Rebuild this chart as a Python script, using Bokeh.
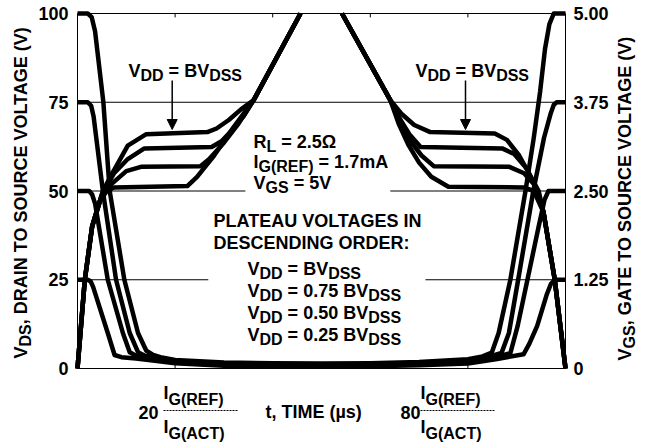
import math
from bokeh.plotting import figure
from bokeh.models import Range1d, Label, Arrow, NormalHead
from bokeh.core.properties import value
from bokeh.embed import file_html
from bokeh.resources import INLINE

# ---------------- data (time in chart units 0..100, VDS in volts, VGS in volts) -------------
vds_ticks = [0, 25, 50, 75, 100]
vds_tick_labels = ["0", "25", "50", "75", "100"]
vgs_ticks = [0, 1.25, 2.5, 3.75, 5.0]
vgs_tick_labels = ["0", "1.25", "2.50", "3.75", "5.00"]
time_ticks = [20, 40, 60, 80]

vds100_t = [0, 2.1, 2.9, 3.6, 5.3, 6.6, 9.6, 12.4, 14.1, 15.5, 17, 20, 30, 40, 50, 60, 70, 80, 83, 84.9,
            86.3, 88.7, 91.8, 93.5, 94.8, 95.8, 96.7, 97.6, 100]
vds100_v = [100, 100, 99, 95, 75, 50, 25, 10, 5, 3.8, 3.2, 2.4, 1.7, 1.5, 1.4, 1.5, 1.8, 2.6, 3.4, 4.5,
            10, 25, 50, 65, 78, 90, 97, 100, 100]
vds75_t = [0, 2.1, 2.8, 3.3, 5.2, 7.9, 10.7, 12.4, 13.8, 17, 20, 30, 40, 50, 60, 70, 80, 84, 86.9, 88.4,
           90.3, 93.4, 95.6, 97.0, 97.6, 98.2, 100]
vds75_v = [75, 75, 74, 71, 50, 25, 10, 4.6, 3.6, 2.8, 2.1, 1.4, 1.2, 1.1, 1.2, 1.5, 2.2, 3.2, 4.4, 10,
           25, 50, 65, 72, 74.3, 75, 75]
vds50_t = [0, 2.4, 3.0, 3.6, 6.2, 9.3, 10.7, 12, 15, 20, 30, 40, 50, 60, 70, 80, 85, 88.7, 90.2, 92.2,
           94.5, 95.7, 96.5, 100]
vds50_v = [50, 50, 49, 46.5, 25, 10, 4.6, 3.6, 3.0, 1.8, 1.1, 0.9, 0.8, 0.9, 1.2, 1.8, 3.0, 4.3, 12, 25,
           40, 47.5, 50, 50]
vds25_t = [0, 2.1, 2.7, 3.2, 6.2, 7.6, 9, 12, 15, 20, 30, 40, 50, 60, 70, 80, 86, 91.4, 92.6, 94.2,
           96.2, 97.0, 97.8, 100]
vds25_v = [25, 25, 24.5, 23, 10, 3.8, 3.2, 2.8, 2.3, 1.5, 0.8, 0.6, 0.5, 0.6, 0.9, 1.4, 2.7, 4.0, 7, 12,
           21, 23.8, 25, 25]

vgs100_on_t = [0, 1.5, 3.0, 5.2, 6.9, 10.3, 14.1, 26.6, 28.5, 31, 33.5, 36.1, 45.7]
vgs100_on_v = [0, 1.25, 2.0, 2.5, 2.72, 3.14, 3.30, 3.33, 3.38, 3.5, 3.65, 3.78, 5.0]
vgs100_off_t = [54.2, 64.1, 66.5, 69, 72.3, 85.5, 88, 90.5, 92.5, 94.5, 95.5, 97.8, 100]
vgs100_off_v = [5.0, 3.78, 3.58, 3.43, 3.33, 3.31, 3.22, 3.0, 2.75, 2.5, 2.2, 1.25, 0]
vgs75_on_t = [0, 1.5, 3.0, 5.0, 7.5, 10.3, 13.7, 27.5, 29.5, 32, 34, 36.1, 45.7]
vgs75_on_v = [0, 1.25, 2.0, 2.45, 2.75, 2.95, 3.1, 3.12, 3.2, 3.38, 3.55, 3.78, 5.0]
vgs75_off_t = [54.2, 64.1, 66.2, 68, 70.3, 87, 89.5, 92, 94.2, 95.5, 97.8, 100]
vgs75_off_v = [5.0, 3.78, 3.5, 3.3, 3.12, 3.1, 3.02, 2.82, 2.52, 2.2, 1.25, 0]
vgs50_on_t = [0, 1.5, 3.0, 4.8, 7, 10, 13, 25.2, 27, 30, 33, 36.1, 45.7]
vgs50_on_v = [0, 1.25, 2.0, 2.4, 2.6, 2.78, 2.84, 2.85, 2.95, 3.18, 3.45, 3.78, 5.0]
vgs50_off_t = [54.2, 64.1, 66, 68, 70.5, 73, 88.5, 91.5, 93.5, 95.5, 97.8, 100]
vgs50_off_v = [5.0, 3.78, 3.48, 3.22, 3.0, 2.85, 2.84, 2.75, 2.6, 2.2, 1.25, 0]
vgs25_on_t = [0, 1.5, 3.0, 4.5, 6, 7.5, 22.5, 24.5, 28, 32, 36.1, 45.7]
vgs25_on_v = [0, 1.25, 2.0, 2.35, 2.5, 2.55, 2.57, 2.7, 3.0, 3.4, 3.78, 5.0]
vgs25_off_t = [54.2, 64.1, 65.8, 67.8, 70, 72.5, 76, 91.4, 93.5, 95.5, 97.8, 100]
vgs25_off_v = [5.0, 3.78, 3.45, 3.15, 2.9, 2.7, 2.56, 2.55, 2.5, 2.2, 1.25, 0]

vds_curves = [(vds100_t, vds100_v), (vds75_t, vds75_v), (vds50_t, vds50_v), (vds25_t, vds25_v)]
vgs_curves = [(vgs100_on_t, vgs100_on_v), (vgs100_off_t, vgs100_off_v),
              (vgs75_on_t, vgs75_on_v), (vgs75_off_t, vgs75_off_v),
              (vgs50_on_t, vgs50_on_v), (vgs50_off_t, vgs50_off_v),
              (vgs25_on_t, vgs25_on_v), (vgs25_off_t, vgs25_off_v)]

# ---------------- layout ----------------
FONT = "Liberation Sans"
W_FIG, H_FIG = 650, 444
FL, FR, FT, FB = 77, 565, 13, 368  # chart box edges in page pixels
VGS_MAX = 5.0
BASE_FIX = 6  # Label alphabetic baseline correction (px)


def X(px):
    return (px - FL) * 100.0 / (FR - FL)


def Y(py):
    return (FB - py) * 100.0 / (FB - FT)


p = figure(width=W_FIG, height=H_FIG, title=None,
           x_range=Range1d(X(0), X(W_FIG)), y_range=Range1d(Y(H_FIG), Y(0)),
           output_backend="svg", toolbar_location=None,
           x_axis_location=None, y_axis_location=None, min_border=0)
p.extra_y_ranges = {"vgs": Range1d(Y(H_FIG) * VGS_MAX / 100, Y(0) * VGS_MAX / 100)}
p.xgrid.visible = False
p.ygrid.visible = False
p.outline_line_color = None
p.background_fill_color = "white"
p.border_fill_color = "white"

# chart box
p.line([0, 100, 100, 0, 0], [0, 0, 100, 100, 0], line_color="black", line_width=1)

# grid lines (broken where the annotations sit)
grid_y = [75, 50, 50, 25, 25]
grid_x0 = [0, 0, 64.1, 0, 71.3]
grid_x1 = [100, 34.4, 100, 26.8, 100]
p.segment(x0=grid_x0, y0=grid_y, x1=grid_x1, y1=grid_y, line_color="black", line_width=1)

# inward ticks on top / bottom
p.segment(x0=time_ticks, y0=[100] * 4, x1=time_ticks, y1=[98.9] * 4, line_color="black", line_width=1)
p.segment(x0=time_ticks, y0=[0] * 4, x1=time_ticks, y1=[1.1] * 4, line_color="black", line_width=1)

LW = 4.5
for t, v in vds_curves:
    p.line(t, v, line_color="black", line_width=LW, line_join="round")
for t, v in vgs_curves:
    p.line(t, v, y_range_name="vgs", line_color="black", line_width=LW, line_join="round")

# tick labels
p.text(x=[X(68)] * len(vds_ticks), y=vds_ticks, text=vds_tick_labels,
       text_font=value(FONT), text_font_style="bold", text_font_size="18px",
       text_align="right", text_baseline="middle", text_color="black")
p.text(x=[X(573)] * len(vgs_ticks), y=vgs_ticks, text=vgs_tick_labels, y_range_name="vgs",
       text_font=value(FONT), text_font_style="bold", text_font_size="18px",
       text_align="left", text_baseline="middle", text_color="black")

# ---------------- text ----------------
WID = {' ': 278, ',': 278, '.': 278, ':': 333, '(': 333, ')': 333, '=': 584,
       'A': 722, 'B': 722, 'C': 722, 'D': 722, 'E': 667, 'F': 611, 'G': 778, 'H': 722, 'I': 278,
       'L': 611, 'M': 833, 'N': 722, 'O': 778, 'P': 667, 'R': 722, 'S': 667, 'T': 611, 'U': 722,
       'V': 667, 'm': 889, 's': 556, 't': 333, 'µ': 611, 'Ω': 768}
for d in "0123456789":
    WID[d] = 556


def tw(s, size):
    return sum(WID.get(c, 600) for c in s) * size / 1000.0


def lab(x, y, text, size, angle=0.0, xo=0.0, yo=0.0):
    p.add_layout(Label(x=x, y=y, x_offset=xo, y_offset=yo, text=text, angle=angle,
                       text_font=FONT, text_font_style="bold", text_font_size=f"{size}px",
                       text_color="black", text_baseline="alphabetic", text_align="left"))


def rich(px, py, runs, rotated=False):
    x, y = X(px), Y(py)
    off = 0.0
    for text, size, shift in runs:
        lead = len(text) - len(text.lstrip(' '))
        core = text.strip(' ')
        start = off + lead * WID[' '] * size / 1000.0
        if rotated:
            lab(x, y, core, size, angle=math.pi / 2, xo=shift - BASE_FIX, yo=start)
        else:
            lab(x, y, core, size, xo=start, yo=BASE_FIX - shift)
        off += tw(text, size)


M, S, SH = 18, 16, 5
vdd_bv = [("V", M, 0), ("DD", S, SH), (" = BV", M, 0), ("DSS", S, SH)]
rich(128, 76, vdd_bv)
rich(415, 76, vdd_bv)
rich(253, 147, [("R", M, 0), ("L", S, SH), (" = 2.5Ω", M, 0)])
rich(253, 167, [("I", M, 0), ("G(REF)", S, SH), (" = 1.7mA", M, 0)])
rich(253, 188, [("V", M, 0), ("GS", S, SH), (" = 5V", M, 0)])
rich(213, 226, [("PLATEAU VOLTAGES IN", M, 0)])
rich(213, 248, [("DESCENDING ORDER:", M, 0)])
rich(247, 274, [("V", M, 0), ("DD", S, SH), (" = BV", M, 0), ("DSS", S, SH)])
rich(247, 296, [("V", M, 0), ("DD", S, SH), (" = 0.75 BV", M, 0), ("DSS", S, SH)])
rich(247, 318, [("V", M, 0), ("DD", S, SH), (" = 0.50 BV", M, 0), ("DSS", S, SH)])
rich(247, 340, [("V", M, 0), ("DD", S, SH), (" = 0.25 BV", M, 0), ("DSS", S, SH)])

# axis titles (rotated, reading upward)
rich(26, 358, [("V", M, 0), ("DS", S, SH), (", DRAIN TO SOURCE VOLTAGE (V)", M, 0)], rotated=True)
rich(630, 360, [("V", M, 0), ("GS", S, SH), (", GATE TO SOURCE VOLTAGE (V)", M, 0)], rotated=True)

# arrows
for ax in (171.7, 465):
    p.add_layout(Arrow(end=NormalHead(size=10, fill_color="black", line_color="black", line_width=1),
                       x_start=X(ax), y_start=Y(80), x_end=X(ax), y_end=Y(129),
                       line_color="black", line_width=1.5))

# bottom time labels
rich(265, 417, [("t, TIME (µs)", M, 0)])
bar_x0, bar_x1 = [], []
for num, nx, ix in (("20", 138, 163), ("80", 400, 420)):
    rich(nx, 418, [(num, M, 0)])
    rich(ix, 398, [("I", M, 0), ("G(REF)", 16, 7)])
    rich(ix, 432, [("I", M, 0), ("G(ACT)", 16, 7)])
    bar_x0.append(X(ix))
    bar_x1.append(X(ix + 74))
p.segment(x0=bar_x0, y0=[Y(410)] * 2, x1=bar_x1, y1=[Y(410)] * 2, line_color="black",
          line_width=1, line_dash="2 1")

open("out.html", "w").write(file_html(p, INLINE))
